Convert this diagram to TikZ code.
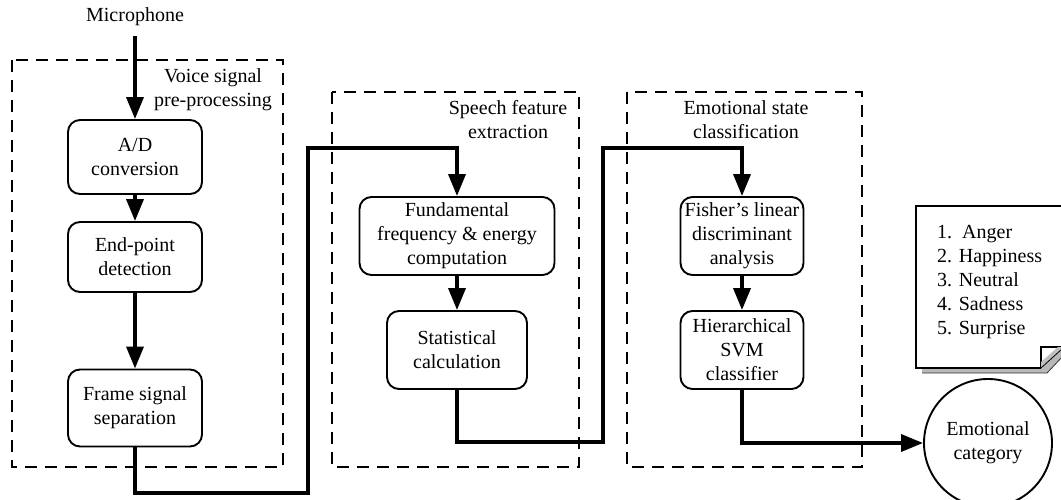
\documentclass[tikz,border=0pt]{standalone}
\usepackage{fontspec}
\setmainfont{Liberation Serif}
\usetikzlibrary{arrows.meta,patterns}
\begin{document}
\begin{tikzpicture}[x=1pt,y=-1pt,
  txt/.style={font=\fontsize{20}{24}\selectfont, align=center, inner sep=0pt},
  procbox/.style={txt, draw, line width=1.9pt, rounded corners=12pt, minimum height=78pt},
  group/.style={draw, line width=2.2pt, dash pattern=on 12pt off 8pt},
  flow/.style={line width=3.6pt, -{Triangle[length=22pt,width=17pt]}}
]
\useasboundingbox (0,0) rectangle (1061,500);

% group frames
\draw[group] (12,60) rectangle (283,467);
\draw[group] (332,92) rectangle (579,467);
\draw[group] (627,92) rectangle (862,467);
\node[txt] (g1) at (213,90) {Voice signal\\pre-processing};
\node[txt] (g2) at (508,120) {Speech feature\\extraction};
\node[txt] (g3) at (746,120) {Emotional state\\classification};

% nodes
\node[txt] (mic) at (135,17) {Microphone};
\node[procbox, minimum width=134pt, minimum height=74pt] (ad) at (135,157) {A/D\\conversion};
\node[procbox, minimum width=134pt, minimum height=70pt] (ep) at (135,257) {End-point\\detection};
\node[procbox, minimum width=134pt, minimum height=77pt] (fs) at (135,408) {Frame signal\\separation};
\node[procbox, minimum width=195pt] (ff) at (457,236) {Fundamental\\frequency \& energy\\computation};
\node[procbox, minimum width=140pt] (sc) at (457,350) {Statistical\\calculation};
\node[procbox, minimum width=123pt] (fl) at (742,236) {Fisher's linear\\discriminant\\analysis};
\node[procbox, minimum width=123pt] (hs) at (742,350) {Hierarchical\\SVM\\classifier};
\node[txt, draw, circle, line width=1.9pt, minimum size=128pt] (ec) at (988,443) {Emotional\\category};

% waypoints
\coordinate (w1) at (135,493);
\coordinate (w2) at (308,493);
\coordinate (w3) at (308,148);
\coordinate (w4) at (457,148);
\coordinate (v1) at (457,442);
\coordinate (v2) at (603,442);
\coordinate (v3) at (603,148);
\coordinate (v4) at (742,148);

% connectors
\draw[flow] (mic.south) ++(0,10) -- (ad.north);
\draw[flow] (ad) -- (ep);
\draw[flow] (ep) -- (fs);
\draw[flow] (ff) -- (sc);
\draw[flow] (fl) -- (hs);
\draw[flow] (fs.south) -- (w1) -- (w2) -- (w3) -- (w4) -- (ff.north);
\draw[flow] (sc.south) -- (v1) -- (v2) -- (v3) -- (v4) -- (fl.north);
\draw[flow] (hs.south) |- (ec.west);

% document shape
\fill[white] (916,206) rectangle (1075,368);
\fill[gray!55] (922,368) -- (1041,368) -- (1063,349) -- (1063,356) -- (1047,373) -- (922,373) -- cycle;
\draw[line width=0.8pt, gray!40!black] (922,373) -- (1047,373) -- (1063,356);
\draw[line width=1.9pt] (1075,206) -- (916,206) -- (916,368) -- (1041,368);
\draw[line width=1.4pt] (1041,368) -- (1041,347) -- (1075,347);
\fill[gray!50] (1041,368) -- (1062,349) -- (1062,347) -- (1058,347) -- (1041,362) -- cycle;
\draw[line width=0.8pt] (1041,368) -- (1062,349);
\node[txt, align=left, anchor=west] (doc) at (937,282) {1.\ \ Anger\\2. Happiness\\3. Neutral\\4. Sadness\\5. Surprise};
\end{tikzpicture}
\end{document}
